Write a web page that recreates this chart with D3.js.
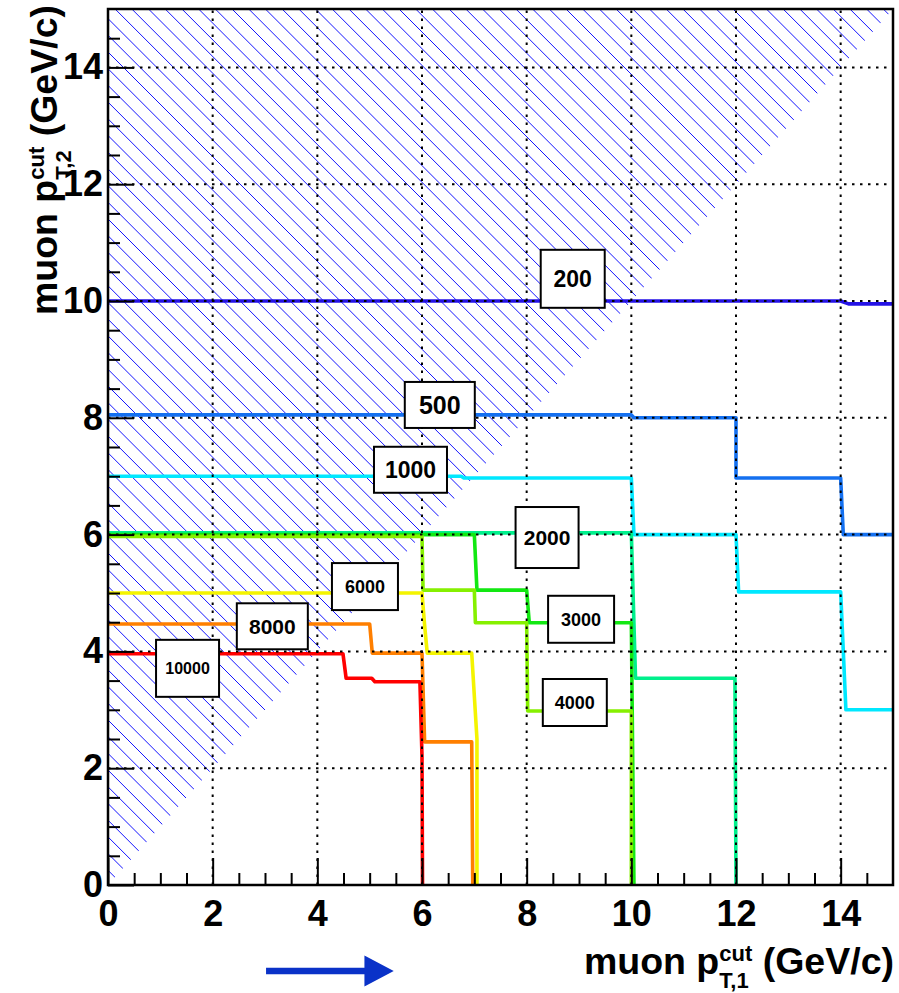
<!DOCTYPE html>
<html>
<head>
<meta charset="utf-8">
<script src="https://cdn.jsdelivr.net/npm/d3@7"></script>
<style>
  html, body { margin: 0; padding: 0; background: #fff; }
  svg { display: block; font-family: "Liberation Sans", Arial, Helvetica, sans-serif; font-weight: bold; }
</style>
</head>
<body>
<div class="chart"></div>
<script>
// contour levels (number of events) and their step contours in (pT1, pT2) [GeV/c]
const levels = [200, 500, 1000, 2000, 3000, 4000, 6000, 8000, 10000];

const c200 = [[0, 10], [14, 10], [14.15, 9.95], [15, 9.95]];
const c500 = [[0, 8.05], [10, 8.05], [10.05, 8.0], [12, 8.0], [12, 6.97], [14, 6.97], [14.05, 6.0], [15, 6.0]];
const c1000 = [[0, 7.0], [6.75, 7.0], [6.8, 6.97], [10, 6.97], [10.05, 6.0], [12, 6.0], [12.05, 5.02], [14, 5.02], [14.1, 3.0], [15, 3.0]];
const c2000 = [[0, 6.03], [10, 6.03], [10.08, 3.54], [11.98, 3.54], [12.0, 0]];
const c3000 = [[0, 6.0], [7.0, 6.0], [7.05, 5.05], [8.0, 5.05], [8.05, 4.49], [10.0, 4.49], [10.05, 0]];
const c4000 = [[0, 5.97], [6.0, 5.97], [6.02, 5.05], [7.0, 5.05], [7.02, 4.49], [8.0, 4.49], [8.02, 2.98], [10.0, 2.98], [10.0, 0]];
const c6000 = [[0, 5.0], [6.0, 5.0], [6.05, 4.45], [6.1, 3.97], [6.95, 3.97], [7.05, 2.5], [7.05, 0]];
const c8000 = [[0, 4.47], [5.0, 4.47], [5.05, 3.97], [6.0, 3.97], [6.05, 2.45], [6.95, 2.45], [6.97, 0]];
const c10000 = [[0, 3.96], [4.49, 3.96], [4.55, 3.54], [5.04, 3.54], [5.1, 3.48], [5.96, 3.48], [6.0, 2.2], [6.01, 0]];
const contours = [c200, c500, c1000, c2000, c3000, c4000, c6000, c8000, c10000];

// where each contour label sits (data units)
const labelX = [8.88, 6.34, 5.78, 8.39, 9.04, 8.92, 4.91, 3.14, 1.52];
const labelY = [10.38, 8.22, 7.11, 5.95, 4.55, 3.125, 5.11, 4.43, 3.71];

const majorTicks = [0, 2, 4, 6, 8, 10, 12, 14];
const tickLabels = ["0", "2", "4", "6", "8", "10", "12", "14"];

// styles
const levelColors = ["#2412e6", "#1470f0", "#00e8ff", "#00f08c", "#12e812", "#86f000", "#f4f400", "#ff7f00", "#ff0000"];
const labelFont = [23, 25, 23, 21, 18, 18, 18, 21, 16];
const labelBox = [[64, 58], [70, 46], [73, 46], [63, 61], [66, 47], [64, 47], [66, 47], [71, 46], [63, 57]];

const W = 899, H = 993;
const margin = { top: 9, right: 6, bottom: 108, left: 108 };

const svg = d3.select('.chart').append('svg')
    .attr('width', W)
    .attr('height', H);

const x = d3.scaleLinear().domain([0, 15]).range([margin.left, W - margin.right]);
const y = d3.scaleLinear().domain([0, 15]).range([H - margin.bottom, margin.top]);

/* hatched region pT2 > pT1 */
svg.append('clipPath').attr('id', 'tri')
    .append('polygon')
    .attr('points', [[x(0), y(0)], [x(0), y(15)], [x(15), y(15)]].map(p => p.join(',')).join(' '));

const hatch = svg.append('g').attr('clip-path', 'url(#tri)');
const step = 16.7;
const cMin = y(15) - x(15) - step, cMax = y(0) - x(0) + step;
d3.range(cMin + ((612 - cMin) % step + step) % step, cMax, step).forEach(c => {
    hatch.append('line')
        .attr('x1', x(0) - 5).attr('y1', x(0) - 5 + c)
        .attr('x2', x(15) + 5).attr('y2', x(15) + 5 + c)
        .attr('stroke', '#1414ff')
        .attr('stroke-width', 1);
});

/* contours */
const line = d3.line()
    .x(d => x(d[0]))
    .y(d => y(d[1]));

svg.append('g').attr('class', 'contours')
    .selectAll('path')
    .data(contours).enter()
    .append('path')
    .attr('d', d => line(d))
    .attr('fill', 'none')
    .attr('stroke', (d, i) => levelColors[i])
    .attr('stroke-width', 3.6)
    .attr('stroke-linejoin', 'round');

/* grid */
const grid = svg.append('g').attr('class', 'grid');
majorTicks.filter(t => t > 0).forEach(t => {
    grid.append('line')
        .attr('x1', x(t)).attr('x2', x(t))
        .attr('y1', y(0)).attr('y2', y(15));
    grid.append('line')
        .attr('x1', x(0)).attr('x2', x(15))
        .attr('y1', y(t)).attr('y2', y(t));
});
grid.selectAll('line')
    .attr('stroke', '#000')
    .attr('stroke-width', 2)
    .attr('stroke-dasharray', '2.5,5.5');

/* contour labels */
const labels = svg.append('g').attr('class', 'labels')
    .selectAll('g')
    .data(levels).enter()
    .append('g')
    .attr('transform', (d, i) => `translate(${x(labelX[i])},${y(labelY[i])})`);

labels.append('rect')
    .attr('x', (d, i) => -labelBox[i][0] / 2)
    .attr('y', (d, i) => -labelBox[i][1] / 2)
    .attr('width', (d, i) => labelBox[i][0])
    .attr('height', (d, i) => labelBox[i][1])
    .attr('fill', '#fff')
    .attr('stroke', '#000')
    .attr('stroke-width', 2);

labels.append('text')
    .attr('text-anchor', 'middle')
    .attr('y', (d, i) => labelFont[i] * 0.36)
    .attr('font-size', (d, i) => labelFont[i])
    .text(d => d);

/* axes */
const xAxis = d3.axisBottom(x).tickValues(majorTicks)
    .tickFormat((d, i) => tickLabels[i])
    .tickSizeInner(-27).tickSizeOuter(0).tickPadding(15);
const yAxis = d3.axisLeft(y).tickValues(majorTicks)
    .tickFormat((d, i) => tickLabels[i])
    .tickSizeInner(-26).tickSizeOuter(0).tickPadding(5);
const minor = d3.range(0.5, 15, 0.5).filter(t => t % 2 !== 0);

svg.append('g')
    .attr('transform', `translate(0,${y(0)})`)
    .call(xAxis);
svg.append('g')
    .attr('transform', `translate(0,${y(0)})`)
    .call(d3.axisBottom(x).tickValues(minor).tickFormat('').tickSizeInner(-12).tickSizeOuter(0));

svg.append('g')
    .attr('transform', `translate(${x(0)},0)`)
    .call(yAxis);
svg.append('g')
    .attr('transform', `translate(${x(0)},0)`)
    .call(d3.axisLeft(y).tickValues(minor).tickFormat('').tickSizeInner(-12).tickSizeOuter(0));

svg.selectAll('.domain').remove();
svg.selectAll('.tick line').attr('stroke', '#000').attr('stroke-width', 2);
svg.selectAll('.tick text')
    .attr('font-size', 36)
    .attr('font-family', '"Liberation Sans", Arial, sans-serif')
    .attr('font-weight', 'bold')
    .attr('fill', '#000');

/* frame */
svg.append('rect')
    .attr('x', x(0)).attr('y', y(15))
    .attr('width', x(15) - x(0)).attr('height', y(0) - y(15))
    .attr('fill', 'none')
    .attr('stroke', '#000')
    .attr('stroke-width', 2.5);

/* axis titles with stacked sub/superscript */
function measure(str, size) {
    const t = svg.append('text').attr('font-size', size).text(str);
    const w = t.node().getComputedTextLength();
    t.remove();
    return w;
}

function title(g, sub) {
    const fs = 37.5, ss = 22;
    const supW = measure('cut', ss), subW = measure(sub, ss);
    const t = g.append('text')
        .attr('text-anchor', 'end')
        .attr('font-size', fs)
        .attr('fill', '#000');
    t.append('tspan').text('muon p');
    t.append('tspan').attr('font-size', ss).attr('dy', -13).text('cut');
    t.append('tspan').attr('font-size', ss).attr('dx', -supW).attr('dy', 27).text(sub);
    t.append('tspan').attr('dx', Math.max(0, supW - subW)).attr('dy', -14).text(' (GeV/c)');
}

title(svg.append('g').attr('transform', `translate(${x(15) + 1},974)`), 'T,1');
title(svg.append('g').attr('transform', `translate(57,${y(15) - 4}) rotate(-90)`), 'T,2');

/* arrow under the x axis */
const ay = y(0) + 86;
svg.append('path')
    .attr('d', d3.line()([[x(3.02), ay - 3.3], [x(4.9), ay - 3.3], [x(4.9), ay - 15.5], [x(5.46), ay],
        [x(4.9), ay + 15.5], [x(4.9), ay + 3.3], [x(3.02), ay + 3.3]]) + 'Z')
    .attr('fill', '#0a32c8');
</script>
</body>
</html>
